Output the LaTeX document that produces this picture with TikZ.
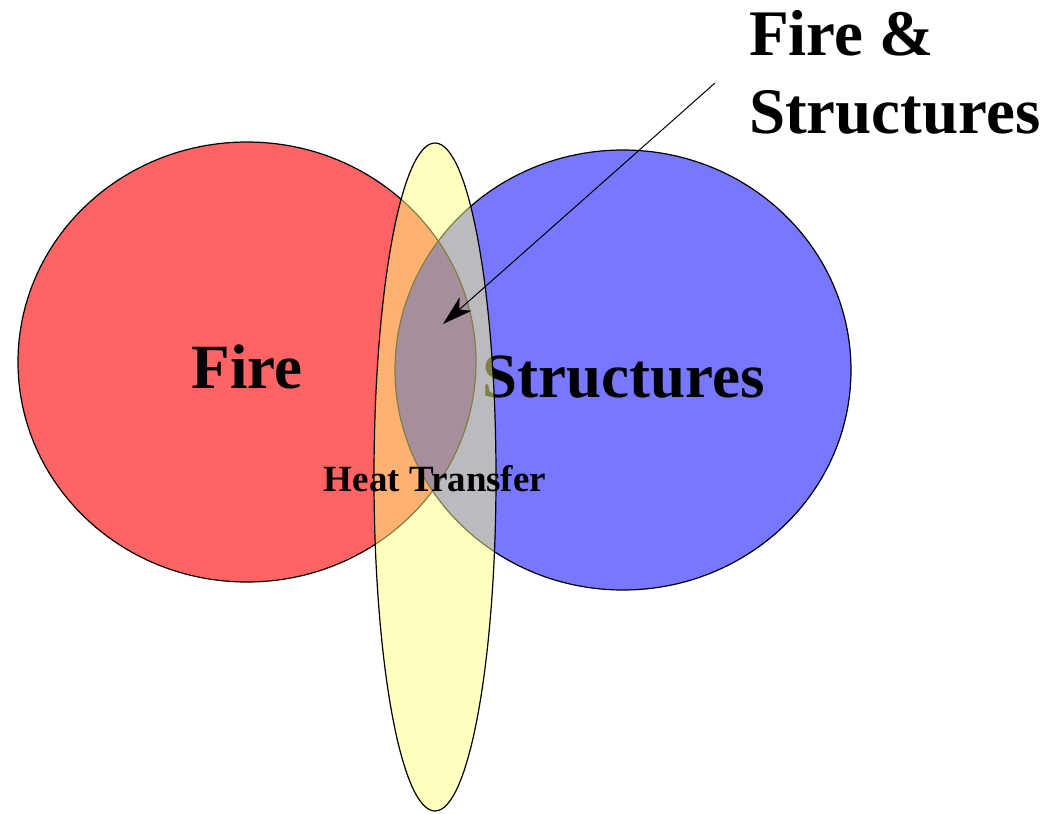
\documentclass[tikz,border=0pt]{standalone}
\usepackage{fontspec}
\setmainfont{Liberation Serif}
\usetikzlibrary{arrows.meta}
\definecolor{firered}{RGB}{255,100,100}
\definecolor{structblue}{RGB}{119,119,255}
\definecolor{lensmix}{RGB}{80,30,185}
\definecolor{heatyellow}{RGB}{255,255,129}
\begin{document}
\begin{tikzpicture}[x=1pt,y=-1pt,
  outline/.style={draw=black,line width=1.2pt},
  bigtext/.style={font=\bfseries\fontsize{63}{76}\selectfont,anchor=base,inner sep=0pt},
  toptext/.style={font=\bfseries\fontsize{65}{78}\selectfont,anchor=base west,inner sep=0pt},
  smalltext/.style={font=\bfseries\fontsize{37}{44}\selectfont,anchor=base,inner sep=0pt}]
\useasboundingbox (0,0) rectangle (1055,814);
% circles
\fill[firered] (247,362) ellipse [x radius=229,y radius=220];
\fill[structblue] (623,370) ellipse [x radius=228,y radius=220];
\begin{scope}
  \clip (247,362) ellipse [x radius=229,y radius=220];
  \fill[lensmix] (623,370) ellipse [x radius=228,y radius=220];
\end{scope}
\draw[outline] (247,362) ellipse [x radius=229,y radius=220];
\draw[outline] (623,370) ellipse [x radius=228,y radius=220];
% labels under the yellow ellipse
\node[bigtext] (fire) at (247,388) {Fire};
\node[bigtext] (struct) at (624,397) {Structures};
% heat transfer ellipse
\fill[heatyellow,fill opacity=0.5] (435,477) ellipse [x radius=61,y radius=334];
\draw[outline] (435,477) ellipse [x radius=61,y radius=334];
\node[smalltext] (heat) at (435,491) {Heat Transfer};
% top label and arrow
\node[toptext] (fs1) at (749,55) {Fire \&};
\node[toptext] (fs2) at (749,133) {Structures};
\coordinate (arrstart) at (715,83);
\coordinate (arrend) at (443,324);
\draw[line width=1pt,-{Stealth[length=30pt,width=18pt,inset=8pt]}] (arrstart) -- (arrend);
\end{tikzpicture}
\end{document}
